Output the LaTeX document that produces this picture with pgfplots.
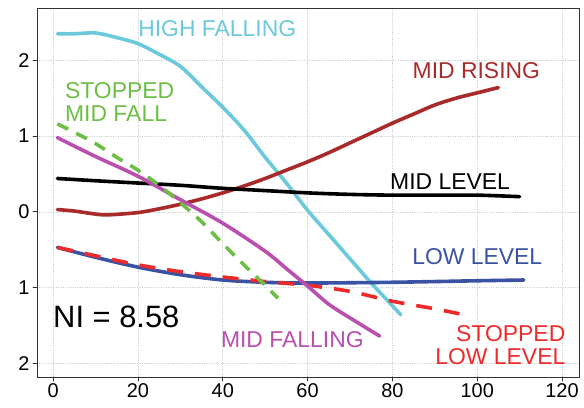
\documentclass[border=0pt]{standalone}
\usepackage{pgfplots}
\pgfplotsset{compat=1.18}
\usepackage{fontspec}
\setmainfont{Liberation Sans}
\definecolor{cHF}{HTML}{6BC9DB}
\definecolor{cMR}{HTML}{A82A2A}
\definecolor{cSMF}{HTML}{6DBE45}
\definecolor{cMF}{HTML}{B94FAE}
\definecolor{cLL}{HTML}{3A52A3}
\definecolor{cSLL}{HTML}{EE2A2A}
\begin{document}
\begin{tikzpicture}
\useasboundingbox (-37bp,-31bp) rectangle (547bp,377bp);
\begin{axis}[
  at={(0,0)}, anchor=south west,
  scale only axis, width=542bp, height=369bp,
  xmin=-3.8, xmax=124, ymin=-2.18, ymax=2.69,
  xtick={0,20,40,60,80,100,120},
  xticklabels={0,20,40,60,80,100,120},
  ytick={-2,-1,0,1,2},
  yticklabels={2,1,0,1,2},
  tick align=outside, tick pos=left,
  major tick length=4bp,
  every tick/.style={black!80, line width=0.8bp},
  axis line style={black!80, line width=0.8bp},
  grid=major,
  grid style={black!25, dotted, line width=0.6bp},
  ticklabel style={font=\fontsize{20}{20}\selectfont, text=black},
  xticklabel style={yshift=1bp},
  /pgf/number format/assume math mode=true,
  clip=false,
  line cap=round,
]
% HIGH FALLING
\addplot[cHF, line width=3.6bp, smooth] coordinates {
(1,2.35)(5,2.35)(10,2.36)(15,2.3)(20,2.22)(25,2.08)(30,1.92)(35,1.65)(40,1.38)(45,1.08)(50,0.72)(55,0.38)(60,0.02)(65,-0.3)(70,-0.62)(75,-0.94)(80,-1.24)(82,-1.36)};
% MID RISING
\addplot[cMR, line width=3.6bp, smooth] coordinates {
(1,0.03)(5,0.01)(10,-0.03)(13,-0.04)(20,-0.01)(25,0.04)(30,0.1)(35,0.17)(40,0.25)(45,0.34)(50,0.44)(55,0.55)(60,0.66)(65,0.78)(70,0.91)(75,1.04)(80,1.17)(85,1.29)(90,1.41)(95,1.5)(100,1.57)(105,1.64)};
% MID LEVEL
\addplot[black, line width=3.6bp, smooth] coordinates {
(1,0.44)(10,0.41)(20,0.38)(30,0.35)(40,0.31)(50,0.28)(60,0.25)(70,0.23)(80,0.22)(90,0.22)(100,0.22)(110,0.2)};
% LOW LEVEL
\addplot[cLL, line width=3.6bp, smooth] coordinates {
(1,-0.47)(10,-0.6)(20,-0.73)(30,-0.83)(40,-0.9)(50,-0.93)(60,-0.94)(80,-0.93)(100,-0.91)(111,-0.9)};
% STOPPED LOW LEVEL
\addplot[cSLL, line width=3.6bp, smooth, dash pattern=on 16bp off 12bp, line cap=butt] coordinates {
(1,-0.47)(10,-0.58)(20,-0.7)(30,-0.79)(40,-0.86)(50,-0.92)(60,-0.97)(70,-1.05)(80,-1.18)(90,-1.28)(97,-1.36)};
% MID FALLING
\addplot[cMF, line width=3.6bp, smooth] coordinates {
(1,0.98)(10,0.73)(20,0.47)(30,0.16)(40,-0.15)(50,-0.52)(55,-0.75)(60,-0.98)(65,-1.22)(70,-1.4)(77,-1.64)};
% STOPPED MID FALL
\addplot[cSMF, line width=3.6bp, smooth, dash pattern=on 12bp off 9bp, line cap=butt] coordinates {
(1,1.16)(5,1.05)(10,0.9)(15,0.72)(20,0.55)(25,0.35)(30,0.12)(35,-0.13)(40,-0.42)(45,-0.7)(50,-0.97)(53,-1.14)};
\node[text=cHF, font=\fontsize{23}{23}\selectfont] at (axis cs:38.7,2.42) {HIGH FALLING};
\node[text=cMR, font=\fontsize{23}{23}\selectfont] at (axis cs:99.8,1.86) {MID RISING};
\node[text=cSMF, font=\fontsize{23}{23}\selectfont, align=left, anchor=west] at (axis cs:2.0,1.45) {STOPPED\\MID FALL};
\node[text=black, font=\fontsize{23}{23}\selectfont] at (axis cs:93.6,0.4) {MID LEVEL};
\node[text=cLL, font=\fontsize{23}{23}\selectfont] at (axis cs:100,-0.59) {LOW LEVEL};
\node[text=cMF, font=\fontsize{23}{23}\selectfont] at (axis cs:56.4,-1.69) {MID FALLING};
\node[text=cSLL, font=\fontsize{23}{23}\selectfont, align=right, anchor=east] at (axis cs:121.6,-1.76) {STOPPED\\LOW LEVEL};
\node[text=black, font=\fontsize{31}{31}\selectfont, anchor=west] at (axis cs:-0.8,-1.39) {NI = 8.58};
\end{axis}
\end{tikzpicture}
\end{document}
